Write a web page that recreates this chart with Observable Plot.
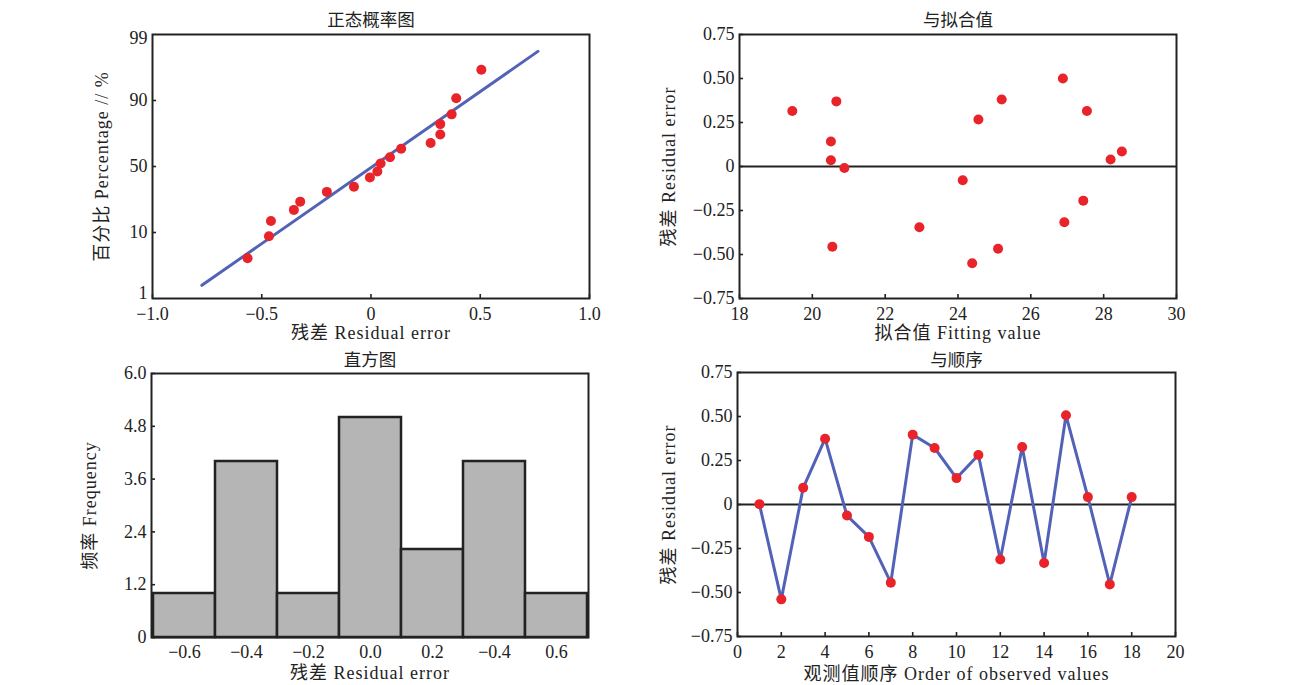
<!DOCTYPE html>
<html><head><meta charset="utf-8">
<script src="https://cdn.jsdelivr.net/npm/d3@7"></script>
<script src="https://cdn.jsdelivr.net/npm/@observablehq/plot@0.6"></script>
<style>
body{margin:0;background:#fff;}
#wrap{position:relative;width:1294px;height:685px;background:#fff;}
#wrap svg{position:absolute;}
#wrap g[aria-label="x-axis label"] text, #wrap g[aria-label="y-axis label"] text{letter-spacing:1px;}
</style></head><body><div id="wrap"></div>
<script>
// ---------- data ----------
// Panel 1: normal probability plot
const probResidual = [-0.565, -0.467, -0.458, -0.353, -0.324, -0.202, -0.078, -0.005, 0.029, 0.044, 0.087, 0.138, 0.273, 0.317, 0.317, 0.369, 0.390, 0.505];
const probPercent  = [6.5, 9.5, 17.0, 23.7, 28.7, 34.6, 37.7, 43.3, 47.0, 51.8, 55.6, 60.8, 64.2, 69.4, 75.7, 81.6, 90.3, 94.2];
const probLineResidual = [-0.774, 0.764];
const probLinePercent  = [2.8, 96.7];
const probTickLabels = [1, 10, 50, 90, 99];
const probXTicks = [-1, -0.5, 0, 0.5, 1];

// Panel 2: residual vs fitted value
const fitValue    = [19.45, 20.66, 20.51, 20.51, 20.88, 20.55, 22.94, 24.13, 24.39, 24.56, 25.20, 25.10, 26.88, 26.92, 27.54, 27.44, 28.19, 28.50];
const fitResidual = [0.315, 0.370, 0.142, 0.036, -0.009, -0.456, -0.345, -0.078, -0.550, 0.267, 0.381, -0.467, 0.500, -0.317, 0.315, -0.194, 0.040, 0.085];
const fitXTicks = [18, 20, 22, 24, 26, 28, 30];
const residTicks = [-0.75, -0.5, -0.25, 0, 0.25, 0.5, 0.75];

// Panel 3: histogram
const histLabels = ["-0.6", "-0.4", "-0.2", "0.0", "0.2", "-0.4", "0.6"];
const histFreq   = [1, 4, 1, 5, 2, 4, 1];
const histYTicks = [0, 1.2, 2.4, 3.6, 4.8, 6.0];

// Panel 4: residual vs order
const orderIndex    = [1, 2, 3, 4, 5, 6, 7, 8, 9, 10, 11, 12, 13, 14, 15, 16, 17, 18];
const orderResidual = [0.002, -0.539, 0.095, 0.374, -0.063, -0.184, -0.444, 0.397, 0.321, 0.150, 0.281, -0.313, 0.327, -0.332, 0.507, 0.042, -0.454, 0.042];
const orderXTicks = [0, 2, 4, 6, 8, 10, 12, 14, 16, 18, 20];

// ---------- styling ----------
const FONT = '"Liberation Serif", "Noto Sans CJK SC", serif';
const RED = "#e8232a", BLUE = "#5262b6", INK = "#222";
const baseStyle = {fontFamily: FONT, fontSize: "18px", color: INK, background: "transparent", overflow: "visible"};
const minus = s => String(s).replace("-", "\u2212");
const fmtResid = d => d === 0 ? "0" : d3.format(".2f")(d);
const fmt1 = d => d === 0 ? "0" : d3.format(".1f")(d);
const fmtHistY = d => d === 0 ? "0" : d3.format(".1f")(d);
const pctToPos = d3.scaleLinear().domain(probTickLabels).range([0, 1, 2, 3, 4]);
const TICK = 4;

const title = (t, dy) => Plot.text([t], {text: d => d, frameAnchor: "top", dy, lineAnchor: "middle", fontSize: 17.5});
// inward tick marks
const innerTicksY = (vals, fw) => Plot.tickY(vals, {y: d => d, insetRight: fw - TICK, stroke: INK, strokeWidth: 1.6});
const innerTicksX = (vals, fh) => Plot.tickX(vals, {x: d => d, insetTop: fh - TICK, stroke: INK, strokeWidth: 1.6});

const wrap = document.getElementById("wrap");
function place(svg, left, top) {
  svg.style.left = left + "px";
  svg.style.top = top + "px";
  wrap.appendChild(svg);
}

// Panel 1
const probData = probResidual.map((r, i) => ({r, p: pctToPos(probPercent[i])}));
const probLine = probLineResidual.map((r, i) => ({r, p: pctToPos(probLinePercent[i])}));
place(Plot.plot({
  width: 647, height: 345, marginLeft: 152, marginRight: 58, marginTop: 34, marginBottom: 47,
  style: baseStyle,
  x: {domain: [-1, 1]},
  y: {domain: [0, 4]},
  marks: [
    Plot.line(probLine, {x: "r", y: "p", stroke: BLUE, strokeWidth: 3}),
    Plot.dot(probData, {x: "r", y: "p", r: 5, fill: RED}),
    innerTicksY([1, 2, 3], 437),
    innerTicksX(probXTicks, 264),
    Plot.frame({stroke: INK, strokeWidth: 2}),
    Plot.axisX({ticks: probXTicks, tickFormat: fmt1, tickSize: 0, tickPadding: 9, label: "残差 Residual error", labelAnchor: "center", labelOffset: 40, labelArrow: "none"}),
    Plot.axisY({ticks: [1, 2, 3], tickFormat: i => String(probTickLabels[i]), tickSize: 0, tickPadding: 5, label: "百分比 Percentage // %", labelAnchor: "center", labelOffset: 57, labelArrow: "none"}),
    Plot.axisY({ticks: [0], tickFormat: i => String(probTickLabels[i]), tickSize: 0, tickPadding: 5, dy: -5, label: null}),
    Plot.axisY({ticks: [4], tickFormat: i => String(probTickLabels[i]), tickSize: 0, tickPadding: 5, dy: 4, label: null}),
    title("正态概率图", -14)
  ]
}), 0, 0);

// Panel 2
const fitData = fitValue.map((f, i) => ({f, r: fitResidual[i]}));
place(Plot.plot({
  width: 647, height: 345, marginLeft: 92, marginRight: 118, marginTop: 34, marginBottom: 47,
  style: baseStyle,
  x: {domain: [18, 30]},
  y: {domain: [-0.75, 0.75]},
  marks: [
    Plot.ruleY([0], {stroke: INK, strokeWidth: 2}),
    Plot.dot(fitData, {x: "f", y: "r", r: 5, fill: RED}),
    innerTicksY(residTicks, 437),
    innerTicksX(fitXTicks, 264),
    Plot.frame({stroke: INK, strokeWidth: 2}),
    Plot.axisX({ticks: fitXTicks, tickFormat: d => String(d), tickSize: 0, tickPadding: 9, label: "拟合值 Fitting value", labelAnchor: "center", labelOffset: 40, labelArrow: "none"}),
    Plot.axisY({ticks: residTicks, tickFormat: fmtResid, tickSize: 0, tickPadding: 5, label: "残差 Residual error", labelAnchor: "center", labelOffset: 77, labelArrow: "none"}),
    title("与拟合值", -14)
  ]
}), 647, 0);

// Panel 3
const histData = histFreq.map((v, i) => ({i, v}));
place(Plot.plot({
  width: 647, height: 340, marginLeft: 151, marginRight: 59, marginTop: 28, marginBottom: 48,
  style: baseStyle,
  x: {type: "band", domain: d3.range(histFreq.length), padding: 0},
  y: {domain: [0, 6]},
  marks: [
    Plot.barY(histData, {x: "i", y: "v", fill: "#b5b5b5", stroke: INK, strokeWidth: 2.5}),
    innerTicksY(histYTicks, 437),
    Plot.frame({stroke: INK, strokeWidth: 2}),
    Plot.axisX({tickFormat: i => minus(histLabels[i]), tickSize: 0, tickPadding: 8, label: "残差 Residual error", labelAnchor: "center", labelOffset: 41, labelArrow: "none"}),
    Plot.axisY({ticks: histYTicks, tickFormat: fmtHistY, tickSize: 0, tickPadding: 5, label: "频率 Frequency", labelAnchor: "center", labelOffset: 68, labelArrow: "none"}),
    title("直方图", -13)
  ]
}), 0, 345);

// Panel 4
const orderData = orderIndex.map((k, i) => ({k, r: orderResidual[i]}));
place(Plot.plot({
  width: 647, height: 340, marginLeft: 90, marginRight: 119, marginTop: 27, marginBottom: 49,
  style: baseStyle,
  x: {domain: [0, 20]},
  y: {domain: [-0.75, 0.75]},
  marks: [
    Plot.ruleY([0], {stroke: INK, strokeWidth: 2}),
    Plot.line(orderData, {x: "k", y: "r", stroke: BLUE, strokeWidth: 3}),
    Plot.dot(orderData, {x: "k", y: "r", r: 5, fill: RED}),
    innerTicksY(residTicks, 438),
    innerTicksX(orderXTicks, 264),
    Plot.frame({stroke: INK, strokeWidth: 2}),
    Plot.axisX({ticks: orderXTicks, tickFormat: d => String(d), tickSize: 0, tickPadding: 9, label: "观测值顺序 Order of observed values", labelAnchor: "center", labelOffset: 43, labelArrow: "none"}),
    Plot.axisY({ticks: residTicks, tickFormat: fmtResid, tickSize: 0, tickPadding: 5, label: "残差 Residual error", labelAnchor: "center", labelOffset: 75, labelArrow: "none"}),
    title("与顺序", -12)
  ]
}), 647, 345);
</script>
</body></html>
